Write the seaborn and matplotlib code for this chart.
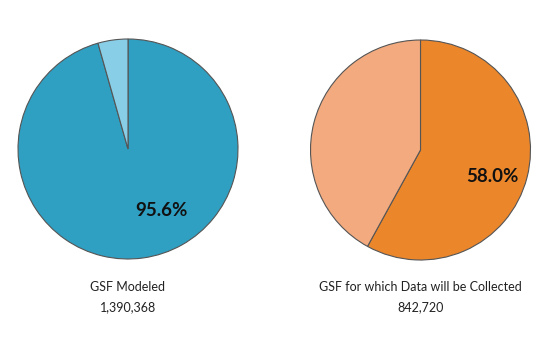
import matplotlib
matplotlib.use("Agg")
import matplotlib.pyplot as plt
import seaborn as sns

sns.set_style("white")
plt.rcParams['font.family'] = ['Lato', 'DejaVu Sans']

left_values = [95.6, 4.4]
left_colors = ["#2F9FC2", "#88CEE7"]
left_title = "GSF Modeled"
left_total = "1,390,368"
left_pct = "95.6%"

right_values = [58.0, 42.0]
right_colors = ["#EC862B", "#F2AA7E"]
right_title = "GSF for which Data will be Collected"
right_total = "842,720"
right_pct = "58.0%"

W, H = 550, 349
fig = plt.figure(figsize=(W / 100, H / 100), dpi=100)
fig.patch.set_facecolor("white")

def make_pie(cx, cy, r, values, colors, pct, pct_xy, title, total):
    ax = fig.add_axes([(cx - r) / W, (H - cy - r) / H, 2 * r / W, 2 * r / H])
    ax.pie(values, colors=colors, startangle=90, counterclock=False,
           wedgeprops=dict(edgecolor="#555555", linewidth=0.8))
    ax.set_xlim(-1, 1)
    ax.set_ylim(-1, 1)
    ax.set_aspect("equal")
    ax.axis("off")
    fig.text(pct_xy[0] / W, 1 - pct_xy[1] / H, pct, ha="center", va="center",
             fontsize=13.5, fontweight="bold", color="#111111")
    fig.text(cx / W, 1 - 287 / H, title, ha="center", va="center",
             fontsize=9, color="#222222")
    fig.text(cx / W, 1 - 307 / H, total, ha="center", va="center",
             fontsize=9, color="#222222")

make_pie(128, 149, 110, left_values, left_colors, left_pct, (161, 210), left_title, left_total)
make_pie(420.5, 150, 110, right_values, right_colors, right_pct, (492, 177), right_title, right_total)

fig.savefig("out.png", dpi=100, facecolor="white")
